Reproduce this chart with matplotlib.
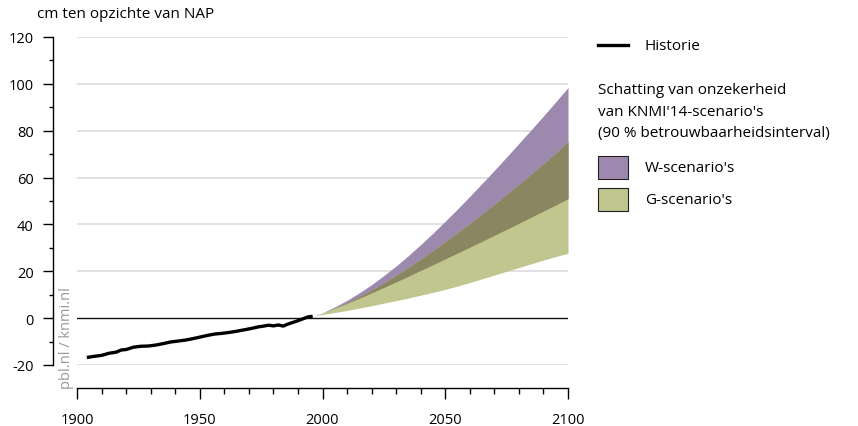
import matplotlib
matplotlib.use("Agg")
import matplotlib.pyplot as plt
from matplotlib.patches import Rectangle
from matplotlib.lines import Line2D

plt.rcParams['font.family'] = ['Open Sans', 'DejaVu Sans']

# Historical sea level (cm relative to NAP)
hist_years = [1904, 1907, 1910, 1913, 1916, 1918, 1920, 1923, 1926, 1929, 1932, 1935,
              1938, 1941, 1944, 1947, 1950, 1953, 1956, 1959, 1962, 1965, 1968, 1971,
              1974, 1976, 1978, 1980, 1982, 1984, 1986, 1988, 1990, 1992, 1994, 1996]
hist_vals = [-16.8, -16.3, -15.9, -15.0, -14.5, -13.6, -13.4, -12.4, -12.0, -11.9, -11.5, -10.9,
             -10.2, -9.8, -9.4, -8.8, -8.1, -7.4, -6.8, -6.5, -6.1, -5.6, -5.0, -4.4,
             -3.7, -3.4, -3.0, -3.3, -2.9, -3.4, -2.5, -1.8, -1.1, -0.3, 0.5, 0.8]

# Scenario bands (90 % interval)
scen_years = [1996, 2000, 2005, 2010, 2015, 2020, 2025, 2030, 2035, 2040, 2045, 2050, 2055,
              2060, 2065, 2070, 2075, 2080, 2085, 2090, 2095, 2100]
w_high = [0.8, 2.3, 4.8, 7.6, 10.8, 14.3, 18.2, 22.3, 26.7, 31.4, 36.3, 41.4, 46.6,
          52.0, 57.5, 63.1, 68.8, 74.6, 80.4, 86.3, 92.3, 98.4]
w_low = [0.8, 2.2, 4.2, 6.3, 8.5, 10.8, 13.1, 15.5, 17.9, 20.4, 22.8, 25.3, 27.8,
         30.3, 32.8, 35.4, 37.9, 40.5, 43.1, 45.7, 48.3, 51.0]
g_high = [0.8, 2.2, 4.3, 6.6, 9.2, 12.0, 15.1, 18.3, 21.7, 25.2, 28.9, 32.6, 36.5,
          40.4, 44.5, 48.6, 52.8, 57.1, 61.5, 65.9, 70.5, 75.3]
g_low = [0.8, 1.6, 2.4, 3.3, 4.3, 5.3, 6.4, 7.5, 8.6, 9.8, 11.0, 12.3, 13.7,
         15.2, 16.8, 18.4, 20.0, 21.6, 23.2, 24.8, 26.3, 27.7]

y_ticks = [-20, 0, 20, 40, 60, 80, 100, 120]
x_ticks = [1900, 1950, 2000, 2050, 2100]

c_w = '#9e89ae'
c_g = '#c1c68e'
c_ov = '#8a8662'

fig = plt.figure(figsize=(8.58, 4.27), dpi=100)
ax = fig.add_axes([77/858, 1-366/427, (568-77)/858, (366-38)/427])
ax.set_xlim(1900, 2100)
ax.set_ylim(-20, 120)

for yv in y_ticks:
    if yv == 0:
        ax.axhline(0, color='#111111', lw=1.0, zorder=3)
    else:
        ax.axhline(yv, color='#dcdcdc', lw=1.2, zorder=0)

ax.fill_between(scen_years, w_low, w_high, color=c_w, lw=0, zorder=1)
ax.fill_between(scen_years, g_low, g_high, color=c_g, lw=0, zorder=1)
ov_low = w_low
ov_high = [max(a, b) for a, b in zip(g_high, w_low)]
ax.fill_between(scen_years, ov_low, ov_high, color=c_ov, lw=0, zorder=2)

ax.plot(hist_years, hist_vals, color='black', lw=2.4, zorder=4, solid_capstyle='butt')

for s in ['top', 'right']:
    ax.spines[s].set_visible(False)
ax.spines['left'].set_position(('outward', 17))
ax.spines['bottom'].set_position(('outward', 16.5))
ax.spines['left'].set_bounds(-20, 120)
ax.spines['bottom'].set_bounds(1900, 2100)
ax.spines['left'].set_linewidth(1.0)
ax.spines['bottom'].set_linewidth(1.0)

ax.set_yticks(y_ticks)
ax.set_yticklabels([str(v) for v in y_ticks])
ax.set_yticks(list(range(-10, 120, 20)), minor=True)
ax.set_xticks(x_ticks)
ax.set_xticklabels([str(v) for v in x_ticks])
ax.set_xticks([y for y in range(1910, 2100, 10) if y % 50], minor=True)
ax.tick_params(axis='y', which='major', length=7.2, width=1.0, pad=7, labelsize=10.5)
ax.tick_params(axis='y', which='minor', length=3.2, width=1.0)
ax.tick_params(axis='x', which='major', length=8, width=1.0, pad=9, labelsize=10.5)
ax.tick_params(axis='x', which='minor', length=4.3, width=1.0)

fig.text(37/858, 1-14/427, 'cm ten opzichte van NAP', fontsize=11, va='center', ha='left')
fig.text(66/858, 1-338/427, 'pbl.nl / knmi.nl', fontsize=10.5, color='#999999',
         rotation=90, ha='center', va='center')

# Legend
fig.add_artist(Line2D([598/858, 628/858], [1-46/427, 1-46/427], color='black', lw=2.4))
fig.text(645/858, 1-46/427, 'Historie', fontsize=11, va='center')
fig.text(598/858, 1-90/427, 'Schatting van onzekerheid', fontsize=11, va='center')
fig.text(598/858, 1-112/427, "van KNMI'14-scenario's", fontsize=11, va='center')
fig.text(598/858, 1-134/427, '(90 % betrouwbaarheidsinterval)', fontsize=11, va='center')
fig.add_artist(Rectangle((598/858, 1-180/427), 30/858, 23/427, facecolor=c_w,
                         edgecolor='#222222', lw=0.8, transform=fig.transFigure))
fig.text(645/858, 1-168/427, "W-scenario's", fontsize=11, va='center')
fig.add_artist(Rectangle((598/858, 1-212/427), 30/858, 23/427, facecolor=c_g,
                         edgecolor='#222222', lw=0.8, transform=fig.transFigure))
fig.text(645/858, 1-200/427, "G-scenario's", fontsize=11, va='center')

fig.savefig('out.png', dpi=100)
